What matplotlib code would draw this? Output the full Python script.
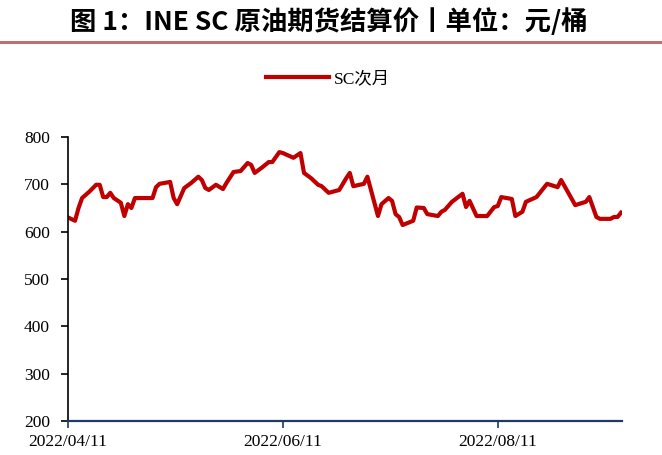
import matplotlib
matplotlib.use('Agg')

import matplotlib.pyplot as plt
import matplotlib.dates as mdates
import pandas as pd

# settlement price
dates = ["2022-04-11", "2022-04-13", "2022-04-14", "2022-04-15", "2022-04-17", "2022-04-19",
         "2022-04-20", "2022-04-21", "2022-04-22", "2022-04-23", "2022-04-24", "2022-04-26",
         "2022-04-27", "2022-04-28", "2022-04-29", "2022-04-30", "2022-05-05", "2022-05-06",
         "2022-05-07", "2022-05-10", "2022-05-11", "2022-05-12", "2022-05-14", "2022-05-16",
         "2022-05-18", "2022-05-19", "2022-05-20", "2022-05-21", "2022-05-23", "2022-05-25",
         "2022-05-26", "2022-05-28", "2022-05-30", "2022-06-01", "2022-06-02", "2022-06-03",
         "2022-06-05", "2022-06-07", "2022-06-08", "2022-06-10", "2022-06-11", "2022-06-14",
         "2022-06-16", "2022-06-17", "2022-06-19", "2022-06-21", "2022-06-22", "2022-06-24",
         "2022-06-27", "2022-06-29", "2022-06-30", "2022-07-01", "2022-07-04", "2022-07-05",
         "2022-07-08", "2022-07-09", "2022-07-11", "2022-07-12", "2022-07-13", "2022-07-14",
         "2022-07-15", "2022-07-18", "2022-07-19", "2022-07-21", "2022-07-22", "2022-07-25",
         "2022-07-26", "2022-07-27", "2022-07-29", "2022-08-01", "2022-08-02", "2022-08-03",
         "2022-08-05", "2022-08-08", "2022-08-10", "2022-08-11", "2022-08-12", "2022-08-15",
         "2022-08-16", "2022-08-18", "2022-08-19", "2022-08-22", "2022-08-25", "2022-08-28",
         "2022-08-29", "2022-09-02", "2022-09-05", "2022-09-06", "2022-09-08", "2022-09-09",
         "2022-09-12", "2022-09-13", "2022-09-14", "2022-09-15"]
sc_next = [630, 623, 650, 671, 684, 699,
           699, 673, 673, 682, 671, 661,
           633, 658, 650, 671, 671, 694,
           701, 705, 671, 658, 692, 703,
           716, 709, 692, 688, 699, 690,
           703, 726, 728, 745, 741, 724,
           735, 747, 747, 768, 766, 756,
           766, 724, 713, 699, 696, 682,
           688, 713, 724, 696, 701, 716,
           633, 658, 671, 665, 637, 631,
           614, 623, 651, 650, 637, 633,
           642, 646, 663, 680, 652, 665,
           633, 633, 652, 654, 673, 669,
           633, 642, 663, 673, 701, 694,
           709, 656, 663, 673, 631, 627,
           627, 631, 631, 640]
tick_dates = ["2022-04-11", "2022-06-11", "2022-08-11"]
y_ticks = [200, 300, 400, 500, 600, 700, 800]

x = pd.to_datetime(dates)
xt = pd.to_datetime(tick_dates)

plt.rcParams['font.family'] = ['Liberation Serif', 'Noto Sans CJK SC']

fig = plt.figure(figsize=(6.62, 4.55), dpi=100)
fig.text(0.496, 0.951, "图 1：INE SC 原油期货结算价丨单位：元/桶", ha="center", va="center",
         fontsize=19, fontweight="bold", family=["Noto Sans CJK SC"])
fig.add_artist(plt.Line2D([0, 1], [0.907, 0.907], color="#BF6F6E", linewidth=2.2))

ax = fig.add_axes([0.1027, 0.0747, 0.837, 0.6243])
ax.plot(x, sc_next, color="#C00000", linewidth=3.0, label="SC次月")

ax.set_ylim(200, 800)
ax.set_yticks(y_ticks)
ax.set_xlim(x[0], x[-1] + pd.Timedelta(days=0.3))
ax.set_xticks(xt)
ax.xaxis.set_major_formatter(mdates.DateFormatter("%Y/%m/%d"))
ax.tick_params(axis="both", labelsize=12.5, direction="out", length=5, width=1.2)
ax.tick_params(axis="x", colors="#1F3864", labelcolor="black", pad=4)
ax.tick_params(axis="y", pad=8)

for s in ["top", "right"]:
    ax.spines[s].set_visible(False)
ax.spines["left"].set_linewidth(1.2)
ax.spines["bottom"].set_linewidth(1.6)
ax.spines["bottom"].set_color("#1F3864")

ax.legend(loc="center", bbox_to_anchor=(0.47, 1.205), frameon=False, fontsize=12.5,
          handlelength=3.6, handletextpad=0.3)

plt.savefig("out.png", dpi=100)
plt.close("all")
